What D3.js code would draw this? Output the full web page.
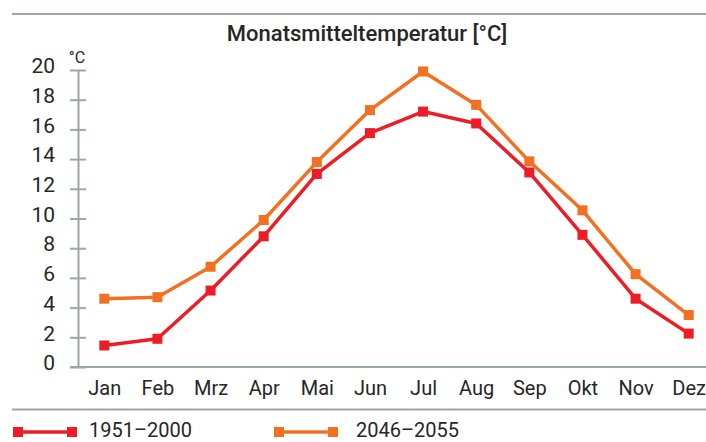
<!DOCTYPE html>
<html>
<head>
<meta charset="utf-8">
<script src="https://cdn.jsdelivr.net/npm/d3@7"></script>
<style>
  body { margin: 0; background: #fff; }
  svg { display: block; font-family: Roboto, "Noto Sans", sans-serif; }
</style>
</head>
<body>
<svg width="706" height="442"></svg>
<script>
const months = ["Jan", "Feb", "Mrz", "Apr", "Mai", "Jun", "Jul", "Aug", "Sep", "Okt", "Nov", "Dez"];
const past = [1.45, 1.9, 5.15, 8.8, 13.0, 15.75, 17.2, 16.4, 13.1, 8.9, 4.6, 2.25];
const future = [4.6, 4.7, 6.75, 9.9, 13.8, 17.3, 19.9, 17.65, 13.85, 10.55, 6.25, 3.5];
const yTicks = [0, 2, 4, 6, 8, 10, 12, 14, 16, 18, 20];
const seriesNames = ["1951\u20132000", "2046\u20132055"];

const red = "#ee1d25", orange = "#f37021", grid = "#9ca7aa", ink = "#262626";

const svg = d3.select("svg"),
    width = +svg.attr("width");

const x = d3.scalePoint()
    .domain(months)
    .range([104.3, 688.7]);

const y = d3.scaleLinear()
    .domain([0, 20])
    .range([367, 70]);

// top rule + title
svg.append("line")
    .attr("x1", 12).attr("x2", width)
    .attr("y1", 14).attr("y2", 14)
    .attr("stroke", grid).attr("stroke-width", 2);

svg.append("text")
    .attr("x", 367).attr("y", 41)
    .attr("text-anchor", "middle")
    .attr("font-size", 22)
    .attr("font-weight", 500)
    .attr("fill", ink)
    .text("Monatsmitteltemperatur [°C]");

svg.append("text")
    .attr("x", 77).attr("y", 63)
    .attr("text-anchor", "middle")
    .attr("font-size", 16)
    .attr("fill", ink)
    .text("°C");

// y axis
const yAxis = svg.append("g")
    .attr("transform", "translate(78,0)")
    .call(d3.axisLeft(y).tickValues(yTicks).tickSize(8).tickSizeOuter(0).tickPadding(15));

yAxis.select(".domain").attr("stroke", grid).attr("stroke-width", 2);
yAxis.selectAll(".tick line").attr("x1", 8).attr("stroke", grid).attr("stroke-width", 2);
yAxis.selectAll(".tick text")
    .attr("y", -4)
    .attr("font-size", 21)
    .attr("font-family", "Roboto, sans-serif")
    .attr("fill", ink);

// baseline
svg.append("line")
    .attr("x1", 70).attr("x2", width)
    .attr("y1", y(0)).attr("y2", y(0))
    .attr("stroke", grid).attr("stroke-width", 2);

// x axis labels
const xAxis = svg.append("g")
    .attr("transform", "translate(0," + y(0) + ")")
    .call(d3.axisBottom(x).tickSize(0).tickPadding(14));
xAxis.select(".domain").remove();
xAxis.selectAll(".tick text")
    .attr("font-size", 20)
    .attr("font-family", "Roboto, sans-serif")
    .attr("fill", ink);

// lines
const line = d3.line()
    .x((d, i) => x(months[i]))
    .y(d => y(d));

[[past, red], [future, orange]].forEach(([data, color]) => {
  svg.append("path")
      .datum(data)
      .attr("fill", "none")
      .attr("stroke", color)
      .attr("stroke-width", 3.5)
      .attr("stroke-linejoin", "round")
      .attr("d", line);

  svg.append("g").selectAll("rect")
    .data(data)
    .join("rect")
      .attr("x", (d, i) => x(months[i]) - 5)
      .attr("y", d => y(d) - 5)
      .attr("width", 10)
      .attr("height", 10)
      .attr("fill", color);
});

// bottom rule + legend
svg.append("line")
    .attr("x1", 12).attr("x2", width)
    .attr("y1", 409.5).attr("y2", 409.5)
    .attr("stroke", grid).attr("stroke-width", 2);

const legend = [
  { name: seriesNames[0], color: red, x0: 13, tx: 76 },
  { name: seriesNames[1], color: orange, x0: 274, tx: 82 }
];

legend.forEach(l => {
  const g = svg.append("g").attr("transform", "translate(" + l.x0 + ",432)");
  g.append("line")
      .attr("x1", 0).attr("x2", 64)
      .attr("stroke", l.color).attr("stroke-width", 3.5);
  [0, 54].forEach(px => {
    g.append("rect")
        .attr("x", px).attr("y", -5)
        .attr("width", 10).attr("height", 10)
        .attr("fill", l.color);
  });
  g.append("text")
      .attr("x", l.tx).attr("y", 5)
      .attr("font-size", 20)
      .attr("fill", ink)
      .text(l.name);
});
</script>
</body>
</html>
